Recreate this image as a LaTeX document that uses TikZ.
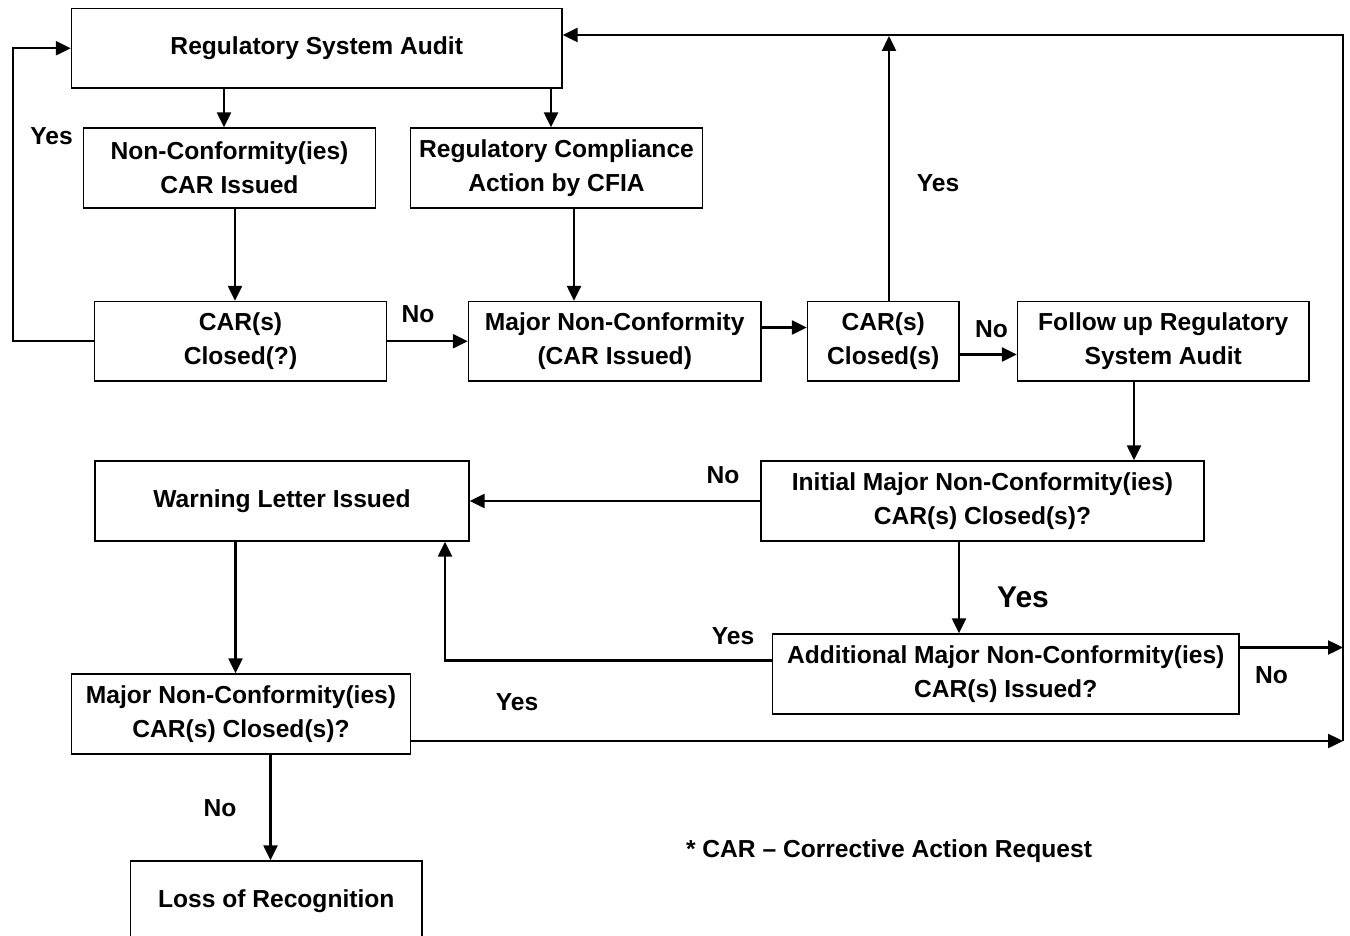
\documentclass[tikz,border=0pt]{standalone}
\usepackage{fontspec}
\setmainfont{Liberation Sans}
\usetikzlibrary{arrows.meta}
\newcommand{\boxfont}{\fontsize{12.3}{17}\selectfont\bfseries}
\newcommand{\bigfont}{\fontsize{15}{18}\selectfont\bfseries}
\begin{document}
\begin{tikzpicture}[x=0.5pt,y=-0.5pt,
  box/.style={draw, line width=0.7pt, rectangle, inner sep=0pt, align=center, font=\boxfont},
  flow/.style={line width=1.2pt, -{Triangle[length=7.5pt,width=7pt]}},
  lbl/.style={font=\boxfont, inner sep=0pt}]
\useasboundingbox (0,0) rectangle (1350,936);
\clip (0,0) rectangle (1350,936);

% boxes
\node[box, minimum width=245.25pt, minimum height=39.75pt] (audit) at (316.75,48.25) {Regulatory System Audit};
\node[box, minimum width=146pt, minimum height=40pt] (nc) at (229.5,168) {Non-Conformity(ies)\\CAR Issued};
\node[box, minimum width=146pt, minimum height=40pt] (rca) at (556.5,168) {Regulatory Compliance\\Action by CFIA};
\node[box, minimum width=146pt, minimum height=39.75pt] (car1) at (240.5,341.25) {CAR(s)\\Closed(?)};
\node[box, minimum width=146.25pt, minimum height=39.75pt] (major) at (614.75,341.25) {Major Non-Conformity\\(CAR Issued)};
\node[box, minimum width=75.75pt, minimum height=39.75pt] (car2) at (883.25,341.25) {CAR(s)\\Closed(s)};
\node[box, minimum width=145.75pt, minimum height=39.75pt] (follow) at (1163.25,341.25) {Follow up Regulatory\\System Audit};
\node[box, minimum width=221.5pt, minimum height=40pt] (initial) at (982.5,501) {Initial Major Non-Conformity(ies)\\CAR(s) Closed(s)?};
\node[box, minimum width=187pt, minimum height=40pt] (warning) at (282,501) {Warning Letter Issued};
\node[box, minimum width=233.25pt, minimum height=40pt] (additional) at (1005.75,674) {Additional Major Non-Conformity(ies)\\CAR(s) Issued?};
\node[box, minimum width=169.5pt, minimum height=40pt] (mnc) at (241,714) {Major Non-Conformity(ies)\\CAR(s) Closed(s)?};
\node[box, minimum width=145.75pt, minimum height=40pt] (loss) at (276.25,901) {Loss of Recognition};

% helper coordinates for connector positions
\coordinate (xa) at (224,0);
\coordinate (xb) at (551,0);
\coordinate (xc) at (235,0);
\coordinate (xd) at (574,0);
\coordinate (lx) at (13,48.25);
\coordinate (ya) at (0,327.5);
\coordinate (top) at (889,36);
\coordinate (yb) at (0,354.5);
\coordinate (xe) at (1134,0);
\coordinate (xf) at (959,0);
\coordinate (yc) at (0,660.5);
\coordinate (xg) at (445,0);
\coordinate (rtop) at (1343,35);
\coordinate (rmid) at (1343,647.5);
\coordinate (rbot) at (1343,741);
\coordinate (xh) at (235.5,0);
\coordinate (xi) at (270.5,0);

% connectors
\draw[flow] (audit.south -| xa) -- (nc.north -| xa);
\draw[flow] (audit.south -| xb) -- (rca.north -| xb);
\draw[flow] (nc.south -| xc) -- (car1.north -| xc);
\draw[flow] (rca.south -| xd) -- (major.north -| xd);
\draw[flow] (car1.west) -| (lx) -- (audit.west);
\draw[flow] (car1.east) -- (major.west);
\draw[flow] (major.east |- ya) -- (car2.west |- ya);
\draw[flow] (car2.north -| top) -- (top);
\draw[flow] (car2.east |- yb) -- (follow.west |- yb);
\draw[flow] (follow.south -| xe) -- (initial.north -| xe);
\draw[flow] (initial.west) -- (warning.east);
\draw[flow] (initial.south -| xf) -- (additional.north -| xf);
\draw[flow] (additional.west |- yc) -| (warning.south -| xg);
\draw[flow] (additional.east |- rmid) -- (rmid);
\draw[flow] (mnc.east |- rbot) -- (rbot);
\draw[flow] (rbot) -- (rtop) -- (audit.east |- rtop);
\draw[flow] (warning.south -| xh) -- (mnc.north -| xh);
\draw[flow] (mnc.south -| xi) -- (loss.north -| xi);

% branch labels
\node[lbl] (l1) at (51.5,136) {Yes};
\node[lbl] (l2) at (418,314) {No};
\node[lbl] (l3) at (938,183) {Yes};
\node[lbl] (l4) at (991.5,329) {No};
\node[lbl] (l5) at (723,475) {No};
\node[lbl, font=\bigfont] (l6) at (1023,597) {Yes};
\node[lbl] (l7) at (733,636.5) {Yes};
\node[lbl] (l8) at (1271.5,675) {No};
\node[lbl] (l9) at (517,702) {Yes};
\node[lbl] (l10) at (220,808) {No};
\node[lbl] (note) at (889,851.5) {* CAR -- Corrective Action Request};
\end{tikzpicture}
\end{document}
